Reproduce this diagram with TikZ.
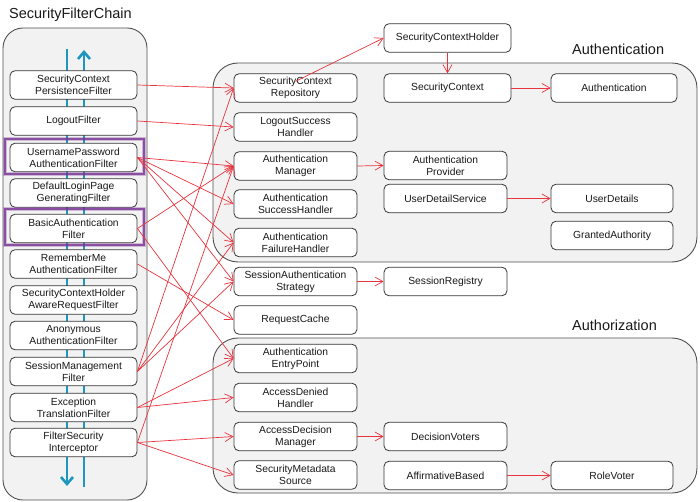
\documentclass[tikz,border=0pt]{standalone}
\usepackage{fontspec}
\setmainfont{Liberation Sans}
\usetikzlibrary{arrows.meta}

\definecolor{panelfill}{RGB}{242,242,242}
\definecolor{panelline}{RGB}{80,80,80}
\definecolor{boxline}{RGB}{55,55,55}
\definecolor{linkred}{RGB}{232,52,62}
\definecolor{flowblue}{RGB}{30,150,190}
\definecolor{markpurple}{RGB}{122,52,150}
\definecolor{inktext}{RGB}{25,25,25}

\tikzset{
  panel/.style={draw=panelline, fill=panelfill, line width=0.9pt},
  cbox/.style={draw=boxline, fill=white, rounded corners=5pt, line width=0.8pt,
    minimum height=28.5pt, inner sep=0pt, align=center, text=inktext,
    font=\fontsize{10.3}{12}\selectfont},
  filterbox/.style={cbox, minimum width=127pt},
  midbox/.style={cbox, minimum width=123pt},
  widebox/.style={cbox, minimum width=127pt},
  narrowbox/.style={cbox, minimum width=123pt},
  farbox/.style={cbox, minimum width=122pt},
  paneltitle/.style={anchor=west, inner sep=0pt, text=inktext,
    font=\fontsize{14.5}{16}\selectfont},
  link/.style={draw=linkred, line width=0.7pt,
    -{Straight Barb[length=8pt,width=9pt]}},
  flow/.style={draw=flowblue, line width=2.6pt},
  flowtip/.style={flow, -{Straight Barb[length=7pt,width=12pt]}},
  highlighthalo/.style={draw=markpurple, line width=4.6pt, draw opacity=0.3},
  highlight/.style={draw=markpurple, line width=2.6pt, draw opacity=0.8}
}

\begin{document}
\begin{tikzpicture}[x=1pt,y=-1pt]
\useasboundingbox (0,0) rectangle (700,502);

% group panels
\draw[panel, rounded corners=20pt] (3,28) rectangle (147,500);
\draw[panel, rounded corners=25pt] (213,63) rectangle (697,262);
\draw[panel, rounded corners=25pt] (213,338) rectangle (697,493);

% panel titles
\node[paneltitle] (tchain) at (9,15) {SecurityFilterChain};
\node[paneltitle] (tauthn) at (572,49) {Authentication};
\node[paneltitle] (tauthz) at (572,325) {Authorization};

% request / response flow through the chain
\coordinate (fdownA) at (67,49);
\coordinate (fdownB) at (67,486);
\coordinate (fupA) at (84,487);
\coordinate (fupB) at (84,50);
\draw[flowtip] (fdownA) -- (fdownB);
\draw[flowtip] (fupA) -- (fupB);

% filters of the chain
\node[filterbox] (scpf)  at (73.5,85)    {SecurityContext\\PersistenceFilter};
\node[filterbox] (lf)    at (73.5,121)   {LogoutFilter};
\node[filterbox] (upaf)  at (73.5,157.5) {UsernamePassword\\AuthenticationFilter};
\node[filterbox] (dlpgf) at (73.5,193)   {DefaultLoginPage\\GeneratingFilter};
\node[filterbox] (baf)   at (73.5,228.5) {BasicAuthentication\\Filter};
\node[filterbox] (rmaf)  at (73.5,264)   {RememberMe\\AuthenticationFilter};
\node[filterbox] (scharf) at (73.5,300)  {SecurityContextHolder\\AwareRequestFilter};
\node[filterbox] (aaf)   at (73.5,335.5) {Anonymous\\AuthenticationFilter};
\node[filterbox] (smf)   at (73.5,371.5) {SessionManagement\\Filter};
\node[filterbox] (etf)   at (73.5,407.5) {Exception\\TranslationFilter};
\node[filterbox] (fsi)   at (73.5,442.5) {FilterSecurity\\Interceptor};

% marked authentication filters
\draw[highlighthalo] (5,139) rectangle (144,174);
\draw[highlighthalo] (5,209) rectangle (144,245);
\draw[highlight] (5,139) rectangle (144,174);
\draw[highlight] (5,209) rectangle (144,245);

% collaborators used by the filters
\node[midbox] (scr) at (295.5,88)    {SecurityContext\\Repository};
\node[midbox] (lsh) at (295.5,127)   {LogoutSuccess\\Handler};
\node[midbox] (am)  at (295.5,166)   {Authentication\\Manager};
\node[midbox] (ash) at (295.5,204)   {Authentication\\SuccessHandler};
\node[midbox] (afh) at (295.5,242.5) {Authentication\\FailureHandler};
\node[midbox] (sas) at (295.5,281.5) {SessionAuthentication\\Strategy};
\node[midbox] (rc)  at (295.5,320)   {RequestCache};
\node[midbox] (aep) at (295.5,358.5) {Authentication\\EntryPoint};
\node[midbox] (adh) at (295.5,397.5) {AccessDenied\\Handler};
\node[midbox] (adm) at (295.5,436.5) {AccessDecision\\Manager};
\node[midbox] (sms) at (295.5,475)   {SecurityMetadata\\Source};

% further collaborators
\node[widebox] (sch) at (447.5,38) {SecurityContextHolder};
\node[widebox] (sc)  at (447.5,88) {SecurityContext};
\node[narrowbox] (ap)  at (445.5,165.5) {Authentication\\Provider};
\node[narrowbox] (uds) at (445.5,198.5) {UserDetailService};
\node[narrowbox] (sr)  at (445.5,281.5) {SessionRegistry};
\node[narrowbox] (dv)  at (445.5,436.5) {DecisionVoters};
\node[narrowbox] (ab)  at (445.5,475.5) {AffirmativeBased};

\node[cbox, minimum width=126pt] (authn) at (614,88) {Authentication};
\node[farbox] (ud) at (612,198.5) {UserDetails};
\node[farbox] (ga) at (612,235.5) {GrantedAuthority};
\node[farbox] (rv) at (612,475.5) {RoleVoter};

% filter -> collaborator links
\draw[link] (scpf.east) -- (scr.west);
\draw[link] (lf.east) -- (lsh.west);
\draw[link] (upaf.east) -- (am.west);
\draw[link] (upaf.east) -- (ash.west);
\draw[link] (upaf.east) -- (afh.west);
\draw[link] (upaf.east) -- (sas.west);
\draw[link] (baf.east) -- (am.west);
\draw[link] (baf.east) -- (aep.west);
\draw[link] (rmaf.east) -- (rc.west);
\draw[link] (smf.east) -- (scr.west);
\draw[link] (smf.east) -- (afh.west);
\draw[link] (smf.east) -- (sas.west);
\draw[link] (etf.east) -- (aep.west);
\draw[link] (etf.east) -- (adh.west);
\draw[link] (fsi.east) -- (am.west);
\draw[link] (fsi.east) -- (adm.west);
\draw[link] (fsi.east) -- (sms.west);

% collaborator -> collaborator links
\draw[link] ([yshift=-8pt]scr.north) -- (sch.west);
\draw[link] (sch.south) -- (sc.north);
\draw[link] (sc.east) -- (authn.west);
\draw[link] (am.east) -- (ap.west);
\draw[link] (uds.east) -- (ud.west);
\draw[link] (sas.east) -- (sr.west);
\draw[link] (adm.east) -- (dv.west);
\draw[link] (ab.east) -- (rv.west);
\end{tikzpicture}
\end{document}
